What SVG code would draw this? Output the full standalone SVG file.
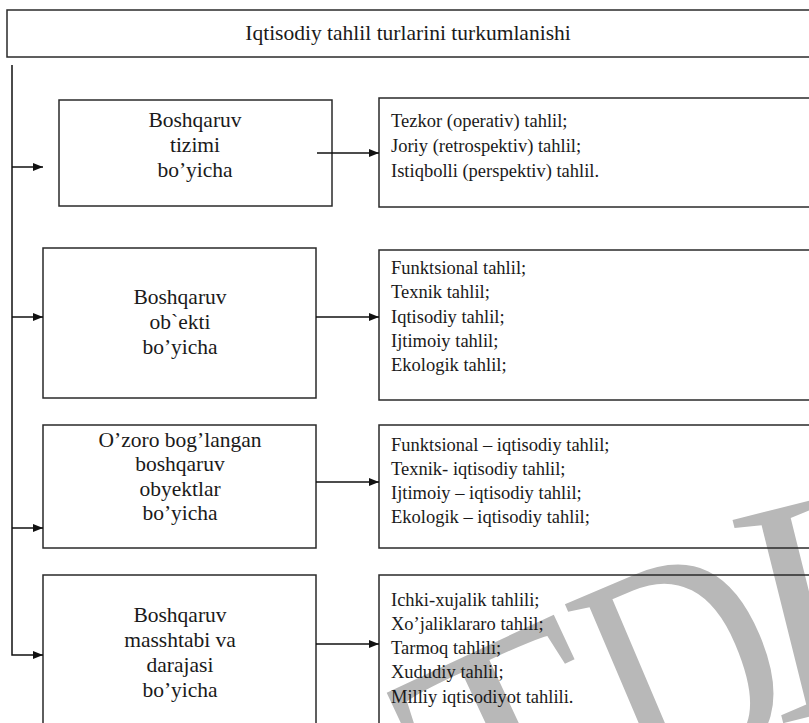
<svg xmlns="http://www.w3.org/2000/svg" width="809" height="723" viewBox="0 0 809 723">
<defs>
<marker id="ah" markerWidth="10" markerHeight="8" refX="10" refY="4" orient="auto" markerUnits="userSpaceOnUse">
<path d="M0,0 L10,4 L0,8 Z" fill="#111"/>
</marker>
</defs>
<style>
.box{fill:none;stroke:#2a2a2a;stroke-width:1.5}
.lt{font-family:"Liberation Serif","Times New Roman",serif;font-size:21.5px;fill:#1a1a1a;text-anchor:middle}
.rt{font-family:"Liberation Serif","Times New Roman",serif;font-size:18.5px;fill:#1a1a1a}
.ttl{font-family:"Liberation Serif","Times New Roman",serif;font-size:21.5px;fill:#1a1a1a;text-anchor:middle}
.con{fill:none;stroke:#111;stroke-width:1.5}
.wm{font-family:"Liberation Serif","Times New Roman",serif;font-size:320px;fill:#b8b8b8}
</style>
<rect width="809" height="723" fill="#fff"/>
<g id="watermark">
<text class="wm" transform="translate(470,885) rotate(-25)">T</text>
<text class="wm" transform="translate(640,800) rotate(-23) scale(0.8,1)">D</text>
<text class="wm" transform="translate(772,726) rotate(-14)">I</text>
</g>
<g id="title">
<rect class="box" x="7" y="10" width="810" height="47"/>
<text class="ttl" x="408" y="40">Iqtisodiy tahlil turlarini turkumlanishi</text>
</g>
<g id="n1">
<rect class="box" x="59" y="100" width="273" height="106"/>
<text class="lt" x="195" y="127">Boshqaruv</text>
<text class="lt" x="195" y="152">tizimi</text>
<text class="lt" x="195" y="177">bo’yicha</text>
</g>
<g id="r1">
<rect class="box" x="379" y="98" width="440" height="109"/>
<text class="rt" x="391" y="127">Tezkor (operativ) tahlil;</text>
<text class="rt" x="391" y="152">Joriy  (retrospektiv) tahlil;</text>
<text class="rt" x="391" y="177">Istiqbolli (perspektiv) tahlil.</text>
</g>
<g id="n2">
<rect class="box" x="43" y="248" width="273" height="150"/>
<text class="lt" x="180" y="304">Boshqaruv</text>
<text class="lt" x="180" y="329">ob`ekti</text>
<text class="lt" x="180" y="354">bo’yicha</text>
</g>
<g id="r2">
<rect class="box" x="379" y="250" width="440" height="150"/>
<text class="rt" x="391" y="274">Funktsional tahlil;</text>
<text class="rt" x="391" y="298">Texnik tahlil;</text>
<text class="rt" x="391" y="323">Iqtisodiy tahlil;</text>
<text class="rt" x="391" y="347">Ijtimoiy tahlil;</text>
<text class="rt" x="391" y="371">Ekologik tahlil;</text>
</g>
<g id="n3">
<rect class="box" x="43" y="425" width="273" height="123"/>
<text class="lt" x="180" y="447">O’zoro bog’langan</text>
<text class="lt" x="180" y="471">boshqaruv</text>
<text class="lt" x="180" y="496">obyektlar</text>
<text class="lt" x="180" y="520">bo’yicha</text>
</g>
<g id="r3">
<rect class="box" x="379" y="425" width="440" height="123"/>
<text class="rt" x="391" y="451">Funktsional – iqtisodiy tahlil;</text>
<text class="rt" x="391" y="475">Texnik- iqtisodiy tahlil;</text>
<text class="rt" x="391" y="499">Ijtimoiy – iqtisodiy tahlil;</text>
<text class="rt" x="391" y="523">Ekologik – iqtisodiy tahlil;</text>
</g>
<g id="n4">
<rect class="box" x="43" y="575" width="273" height="160"/>
<text class="lt" x="180" y="622">Boshqaruv</text>
<text class="lt" x="180" y="647">masshtabi va</text>
<text class="lt" x="180" y="672">darajasi</text>
<text class="lt" x="180" y="697">bo’yicha</text>
</g>
<g id="r4">
<rect class="box" x="379" y="575" width="440" height="160"/>
<text class="rt" x="391" y="606">Ichki-xujalik tahlili;</text>
<text class="rt" x="391" y="630">Xo’jaliklararo tahlil;</text>
<text class="rt" x="391" y="654">Tarmoq tahlili;</text>
<text class="rt" x="391" y="678">Xududiy tahlil;</text>
<text class="rt" x="391" y="703">Milliy iqtisodiyot tahlili.</text>
</g>
<g id="connectors">
<path class="con" d="M12,65 V655 H43" marker-end="url(#ah)"/>
<path class="con" d="M12,167 H43" marker-end="url(#ah)"/>
<path class="con" d="M12,317 H43" marker-end="url(#ah)"/>
<path class="con" d="M12,528 H43" marker-end="url(#ah)"/>
<path class="con" d="M317,153 H379" marker-end="url(#ah)"/>
<path class="con" d="M316,317 H379" marker-end="url(#ah)"/>
<path class="con" d="M316,482 H379" marker-end="url(#ah)"/>
<path class="con" d="M316,644 H379" marker-end="url(#ah)"/>
</g>
</svg>
